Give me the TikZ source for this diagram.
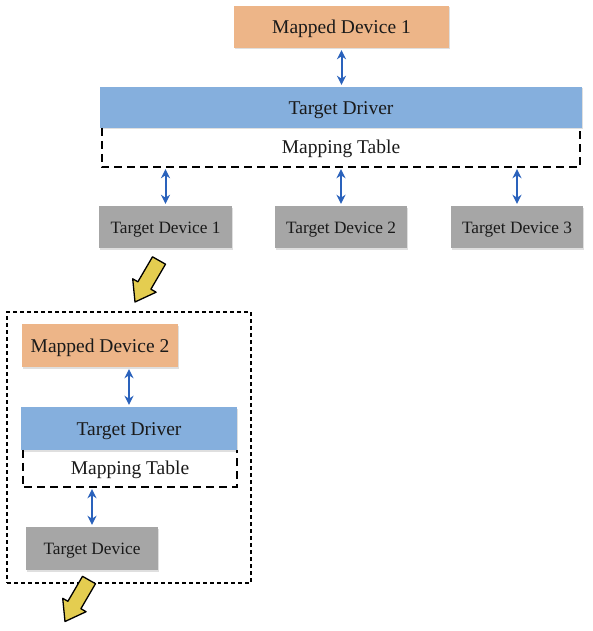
\documentclass[tikz,border=0pt]{standalone}
\usepackage{fontspec}
\setmainfont{Liberation Serif}
\usetikzlibrary{arrows.meta,shadows}
\definecolor{orangebox}{HTML}{EDB588}
\definecolor{bluebox}{HTML}{85AFDD}
\definecolor{graybox}{HTML}{A6A6A6}
\definecolor{linkblue}{HTML}{2A62BC}
\definecolor{arrowyellow}{HTML}{E4CD50}
\definecolor{txt}{HTML}{1A1A1A}
\tikzset{
 box/.style={rectangle, inner sep=0pt, text=txt, drop shadow={shadow xshift=0.8pt, shadow yshift=-1.5pt, opacity=0.25}},
 mapped/.style={box, fill=orangebox, font=\fontsize{19.5}{22}\selectfont, text height=13pt, text depth=0pt},
 driver/.style={box, fill=bluebox, font=\fontsize{19.5}{22}\selectfont, text height=14pt, text depth=0pt},
 tdev/.style={box, fill=graybox, font=\fontsize{17.3}{20}\selectfont, text height=12.8pt, text depth=0pt},
 tablebox/.style={rectangle, inner sep=0pt, text=txt, font=\fontsize{19.5}{22}\selectfont, text height=12pt, text depth=0pt},
 link/.style={draw=linkblue, line width=2pt, {Stealth[length=9pt,width=9pt]}-{Stealth[length=9pt,width=9pt]}, shorten >=2pt, shorten <=2pt},
 tabledash/.style={draw=black, line width=1.6pt, dash pattern=on 8pt off 5pt},
 framedot/.style={rectangle, inner sep=0pt, draw=black, line width=1.5pt, dash pattern=on 4pt off 3pt},
 bigarrow/.style={fill=arrowyellow, draw=black, line width=1.3pt, line join=round},
 pics/yarrow/.style={code={\draw[bigarrow] (30.5,-37.8) -- (15.9,-12.8) -- (21.1,-9.8) -- (0,0) -- (-2.3,-23.2) -- (2.9,-20.2) -- (17.5,-45.2) -- cycle;}}
}
\begin{document}
\begin{tikzpicture}[x=1pt,y=-1pt]
\useasboundingbox (0,0) rectangle (593,631);
\fill[white] (0,0) rectangle (593,631);
% top group
\node[mapped, minimum width=215pt, minimum height=42pt] (md1) at (341.5,27) {Mapped Device 1};
\node[driver, minimum width=482pt, minimum height=41pt] (drv1) at (341,107.5) {Target Driver};
\node[tablebox, minimum width=478pt, minimum height=39pt] (mt1) at (341,147.5) {Mapping Table};
\draw[tabledash] (mt1.north west) -- (mt1.south west) -- (mt1.south east) -- (mt1.north east);
\node[tdev, minimum width=133pt, minimum height=42pt] (td1) at (165.5,227) {Target Device 1};
\node[tdev, minimum width=132pt, minimum height=42pt] (td2) at (341,227) {Target Device 2};
\node[tdev, minimum width=132pt, minimum height=42pt] (td3) at (517,227) {Target Device 3};
\draw[link] (md1.south) -- (md1.south |- drv1.north);
\draw[link] (td1.north |- mt1.south) -- (td1.north);
\draw[link] (td2.north |- mt1.south) -- (td2.north);
\draw[link] (td3.north |- mt1.south) -- (td3.north);
% yellow arrow 1
\pic at (135,302) {yarrow};
% bottom group
\node[framedot, minimum width=244pt, minimum height=271pt] (frame) at (129,447.5) {};
\node[mapped, minimum width=156pt, minimum height=43pt] (md2) at (100,345.5) {Mapped Device 2};
\node[driver, minimum width=216pt, minimum height=43pt] (drv2) at (129,428.5) {Target Driver};
\node[tablebox, minimum width=214pt, minimum height=37pt] (mt2) at (130,468.5) {Mapping Table};
\draw[tabledash] (mt2.north west) -- (mt2.south west) -- (mt2.south east) -- (mt2.north east);
\node[tdev, minimum width=132pt, minimum height=43pt] (td) at (92,548.5) {Target Device};
\draw[link] (drv2.north |- md2.south) -- (drv2.north);
\draw[link] (td.north |- mt2.south) -- (td.north);
% yellow arrow 2
\pic at (65,621.5) {yarrow};
\end{tikzpicture}
\end{document}
